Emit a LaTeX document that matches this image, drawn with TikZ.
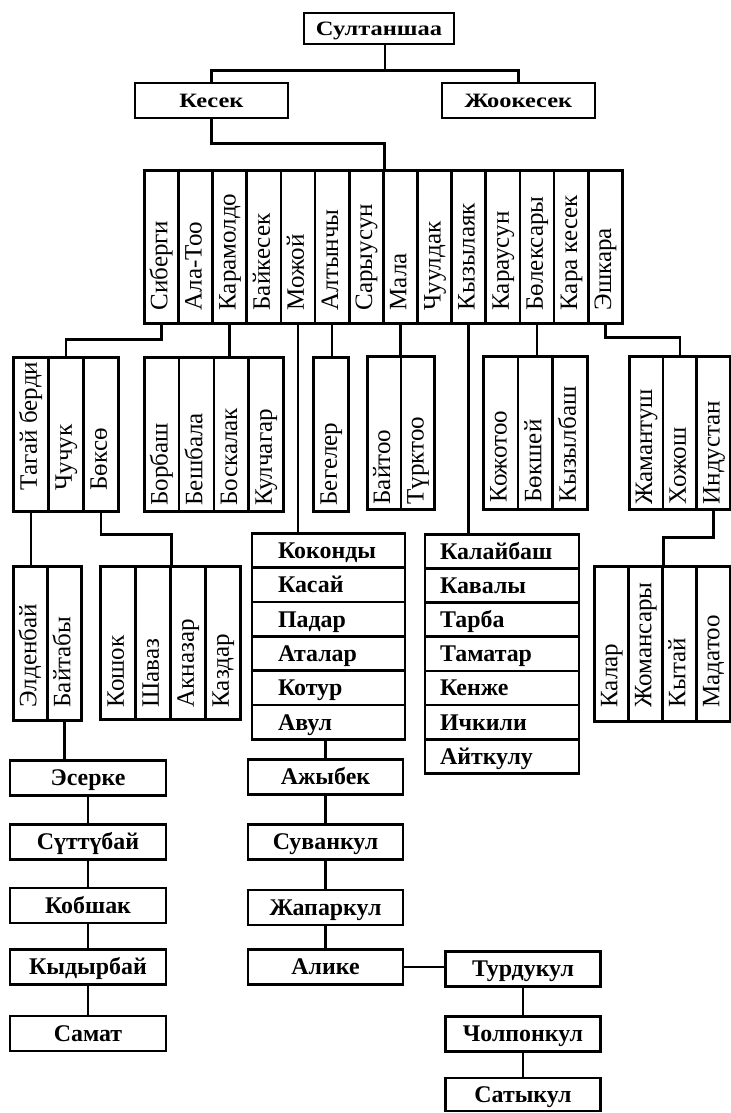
\documentclass[tikz,border=0pt]{standalone}
\usepackage{fontspec}
\setmainfont{Liberation Serif}
\usetikzlibrary{positioning,calc}
\newcommand{\kzwide}[1]{\scalebox{1.2}[1]{#1}}
\tikzset{
  headBox/.style={draw, line width=1.9pt, inner sep=0pt, minimum width=38.25mm, minimum height=8.75mm, text height=3.6mm, text depth=0.2mm, font=\bfseries\fontsize{14.5}{16}\selectfont},
  nameBox/.style={draw, line width=1.9pt, inner sep=0pt, minimum width=39mm, minimum height=8.75mm, text height=4.2mm, text depth=0.25mm, font=\bfseries\fontsize{17}{20}\selectfont},
  stripBox/.style={draw, line width=1.9pt, inner sep=0pt, anchor=north west},
  stripText/.style={rotate=90, anchor=west, inner sep=0pt, text height=12pt, text depth=3.5pt, font=\fontsize{17.8}{20}\selectfont},
  listBox/.style={draw, line width=1.9pt, anchor=north, inner ysep=0pt, align=left, text height=4.2mm, text depth=0.25mm, font=\bfseries\fontsize{17}{20}\selectfont},
  famLink/.style={line width=1.9pt}
}
% prefix, left, top, cell width, height, text pad (all in px), names
\newcommand{\clanstrip}[7]{%
  \foreach \clan [count=\i] in {#7}{
    \node[stripBox, minimum width=#4*0.25mm, minimum height=#5*0.25mm] (#1\i) at ({#2+(\i-1)*#4},#3) {};
    \node[stripText] at ([yshift=#6*0.25mm]#1\i.south) {\clan};
  }}

\begin{document}
\begin{tikzpicture}[x=0.25mm,y=-0.25mm]
  \fill[white] (0,0) rectangle (730,1113);
  \useasboundingbox (0,0) rectangle (730,1113);

  \node[headBox, minimum width=37.5mm, minimum height=7.75mm] (sultan) at (379,28.5) {\kzwide{Султаншаа}};
  \node[headBox] (kesek) at (211.5,100.5) {\kzwide{Кесек}};
  \node[headBox] (jook) at (518.5,100.5) {\kzwide{Жоокесек}};

  \clanstrip{s}{143}{169}{34.14}{153}{14}{Сиберги,Ала-Тоо,Карамолдо,Байкесек,Можой,Алтынчы,Сарыусун,Мала,Чуулдак,Кызылаяк,Караусун,Бөлексары,Кара кесек,Эшкара}
  \clanstrip{a}{12}{356}{35}{154}{22}{Тагай берди,Чучук,Бөксө}
  \clanstrip{b}{143}{356}{34.75}{154}{7}{Борбаш,Бешбала,Боскалак,Кулчагар}
  \clanstrip{g}{312}{356}{35}{154}{7}{Бегелер}
  \clanstrip{m}{366}{355}{33.5}{153}{6}{Байтоо,Түрктоо}
  \clanstrip{n}{482}{355}{34.67}{153}{8}{Кожотоо,Бөкшей,Кызылбаш}
  \clanstrip{h}{628}{355}{33.7}{153}{6}{Жамантуш,Хожош,Индустан}
  \clanstrip{e}{12}{565}{34}{154}{14}{Элденбай,Байтабы}
  \clanstrip{q}{99}{565}{35}{153}{13}{Кошок,Шаваз,Акназар,Каздар}
  \clanstrip{c}{593}{565}{34}{155}{15}{Калар,Жомансары,Кытай,Мадатоо}

  \foreach \clan [count=\i] in {Коконды,Касай,Падар,Аталар,Котур,Авул}
    \node[listBox, minimum width=38.25mm, minimum height=8.58mm, text width=25.25mm, inner xsep=6.5mm] (k\i) at (328.5,{532+(\i-1)*34.33}) {\clan};
  \foreach \clan [count=\i] in {Калайбаш,Кавалы,Тарба,Таматар,Кенже,Ичкили,Айткулу}
    \node[listBox, minimum width=38.5mm, minimum height=8.53mm, text width=31mm, inner xsep=3.75mm] (l\i) at (502,{533+(\i-1)*34.14}) {\clan};

  \node[nameBox] (es) at (88,778) {Эсерке};
  \node[nameBox] (su) at (88,842) {Сүттүбай};
  \node[nameBox] (ko) at (88,905.5) {Кобшак};
  \node[nameBox] (ky) at (88,967) {Кыдырбай};
  \node[nameBox] (sa) at (88,1033.5) {Самат};

  \node[nameBox, minimum width=38.75mm] (aj) at (325.5,777) {Ажыбек};
  \node[nameBox, minimum width=38.75mm] (sv) at (325.5,842) {Суванкул};
  \node[nameBox, minimum width=38.75mm] (zh) at (325.5,907.5) {Жапаркул};
  \node[nameBox, minimum width=38.75mm] (al) at (325.5,967) {Алике};
  \node[nameBox, minimum width=38.75mm] (tu) at (523,969) {Турдукул};
  \node[nameBox, minimum width=38.75mm] (ch) at (523,1034) {Чолпонкул};
  \node[nameBox, minimum width=38.75mm, minimum height=8.25mm] (st) at (523,1094.5) {Сатыкул};

  % links
  \draw[famLink] ([xshift=1.5mm]sultan.south) -- ++(0,25) -| (kesek.north);
  \draw[famLink] ([xshift=1.5mm]sultan.south) -- ++(0,25) -| (jook.north);
  \draw[famLink] (kesek.south) -- ++(0,24) -| (s7.north east);
  \draw[famLink] (s1.south) -- ++(0,15) -| (a2.north);
  \draw[famLink] (s3.south) -- (s3.south |- b3.north);
  \draw[famLink] (s5.south) -- (s5.south |- k1.north);
  \draw[famLink] (s6.south) -- (s6.south |- g1.north);
  \draw[famLink] (s8.south) -- (s8.south |- m1.north);
  \draw[famLink] (s10.south) -- (s10.south |- l1.north);
  \draw[famLink] (s12.south) -- (s12.south |- n2.north);
  \draw[famLink] (s14.south) -- ++(0,13) -| (h2.north);
  \draw[famLink] (a1.south) -- (a1.south |- e1.north);
  \draw[famLink] (a3.south) -- ++(0,22) -| (q2.north east);
  \draw[famLink] (h3.south) -- ++(0,27) -| (c2.north east);
  \draw[famLink] (e2.south) -- (e2.south |- es.north);
  \draw[famLink] (es) -- (su) -- (ko) -- (ky) -- (sa);
  \draw[famLink] (aj.north |- k6.south) -- (aj.north);
  \draw[famLink] (aj) -- (sv) -- (zh) -- (al);
  \draw[famLink] (al.east) -- (al.east -| tu.west);
  \draw[famLink] (tu) -- (ch) -- (st);
\end{tikzpicture}
\end{document}
